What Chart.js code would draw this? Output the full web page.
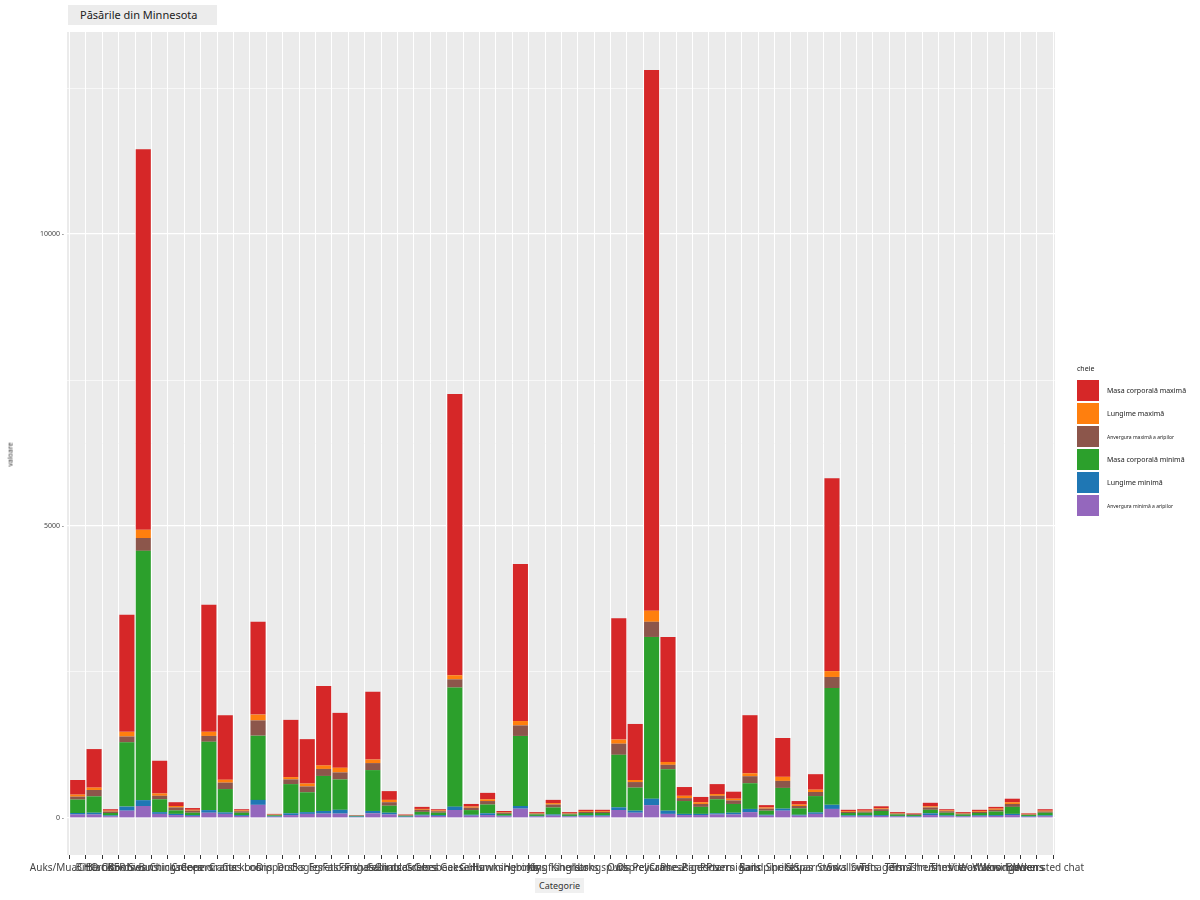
<!DOCTYPE html>
<html><head><meta charset="utf-8">
<script src="https://cdn.jsdelivr.net/npm/chart.js@4"></script>
<style>
body{margin:0;background:#fff;font-family:"Noto Sans",sans-serif;}
#wrap{position:relative;width:1200px;height:900px;}
#title{position:absolute;left:68px;top:5px;width:149px;height:20px;background:#ececec;font-size:11px;color:#222;line-height:20px;padding-left:12px;box-sizing:border-box;}
#legend{position:absolute;left:1077px;top:364px;font-size:7px;color:#222;white-space:nowrap;}
.li{display:flex;align-items:center;height:23px;}
.sw{width:22px;height:21px;margin-right:8px;}
.sm{font-size:5px;}
#xt{position:absolute;left:535px;top:878px;font-size:9px;color:#333;background:#f0f0f0;padding:1px 4px;}
#yt{position:absolute;left:-2px;top:450px;font-size:7px;color:#333;transform:rotate(-90deg);}
</style></head><body>
<div id="wrap"><canvas id="c" width="1200" height="900"></canvas>
<div id="title">Păsările din Minnesota</div>
<div id="xt">Categorie</div><div id="yt">valoare</div>
<div id="legend"></div></div>
<script>
const categories=["Auks/MuaCHO CKER","Bitterns","Blackbirds","Boobies","Swans","Buntings","Chickadees","Creepers","Cormorants","Cranes","Cuckoos","Loons","Dippers","Ducks","Eagles","Egrets","Falcons","Finches","Frigatebirds","Gallinules","Gnatcatchers","Grebes","Grosbeaks","Geese","Gulls","Hawks","Hummingbirds","Herons","Jays","Kingfishers","Kinglets","Larks","Longspurs","Owls","Ospreys","Pelicans","Cranes2","Pheasants","Pigeons","Plovers","Ptarmigans","Rails","Sandpipers","Shrikes","Skuas","Sparrows","Storks","Swallows","Swifts","Tanagers","Terns","Thrashers","Thrushes","Titmice","Vireos","Warblers","Waxwings","Woodpeckers","Wrens","Bbwen sted chat"];
const anvergMin=[60,60,30,125,205,70,50,35,90,70,35,225,20,50,70,75,75,15,80,60,15,40,35,137,40,50,30,160,25,40,25,30,30,137,90,220,70,50,50,60,60,100,40,125,40,70,155,30,30,35,25,20,50,30,25,30,35,50,20,30];
const lungMin=[25,30,15,70,100,30,20,15,45,25,15,85,10,30,30,45,65,10,40,30,10,15,15,57,15,30,10,45,10,20,10,15,15,45,35,110,55,20,20,20,30,55,15,35,15,25,70,15,15,15,10,10,30,15,10,15,15,20,10,15];
const masaMin=[230,280,40,1100,4270,220,60,40,1170,400,40,1100,15,500,340,600,520,10,700,120,12,50,40,2040,80,150,30,1200,25,120,25,40,40,900,395,2770,710,220,120,240,150,440,70,355,110,280,2000,40,45,70,25,20,60,45,25,40,60,120,20,45];
const anvergMax=[50,110,25,100,220,60,50,35,100,110,25,260,10,80,100,120,120,8,120,60,10,35,25,140,40,60,20,180,15,50,15,20,20,190,95,260,75,50,50,60,60,120,35,120,40,70,190,20,20,30,15,15,40,25,15,20,30,50,10,20];
const lungMax=[35,40,15,80,140,40,25,15,70,50,15,100,5,40,50,60,80,4,60,40,5,15,15,70,20,30,10,75,10,25,10,15,15,70,35,190,50,40,30,30,30,50,20,70,25,40,100,15,15,15,10,5,20,15,10,15,20,30,10,15];
const masaMax=[250,660,25,2005,6515,560,65,30,2175,1105,20,1590,10,980,760,1360,940,3,1160,150,8,35,20,4816,45,110,20,2690,15,55,15,20,20,2078,960,9260,2140,150,90,170,120,995,40,665,60,265,3305,20,25,35,15,10,60,20,15,20,30,60,10,25];
const seriesNames=["Anvergura minimă a aripilor","Lungime minimă","Masa corporală minimă","Anvergura maximă a aripilor","Lungime maximă","Masa corporală maximă"];
const seriesData=[anvergMin,lungMin,masaMin,anvergMax,lungMax,masaMax];
const colors=["#9467bd","#1f77b4","#2ca02c","#8c564b","#ff7f0e","#d62728"];
const yTicks=[0,2500,5000,7500,10000,12500];

const bg={id:'bg',beforeDraw(ch){const a=ch.chartArea,c=ch.ctx;c.save();c.fillStyle='#ebebeb';c.fillRect(67,a.top,1055-67,a.bottom-a.top);c.restore();}};
new Chart(document.getElementById('c'),{
 type:'bar',
 data:{datasets:seriesData.map((d,i)=>({label:seriesNames[i],data:d.map((v,j)=>({x:j,y:v})),backgroundColor:colors[i],borderWidth:0,barPercentage:0.92,categoryPercentage:1}))},
 options:{responsive:false,animation:false,
  layout:{padding:{top:32,right:145,left:0,bottom:0}},
  plugins:{legend:{display:false},tooltip:{enabled:false}},
  scales:{
   x:{type:'linear',stacked:true,min:-0.15,max:59.1,
     afterFit(s){s.height=45;s.paddingLeft=0;s.paddingRight=0;},
     afterBuildTicks(s){s.ticks=categories.map((_,i)=>({value:i}));},
     ticks:{autoSkip:false,maxRotation:0,font:{size:10,family:'Noto Sans'},color:'#444',callback:v=>categories[v]},
     grid:{color:'#ffffff',lineWidth:1,tickColor:'#333',tickLength:4},border:{display:false}},
   y:{stacked:true,min:-634,max:13460,
     afterFit(s){s.width=67;s.paddingTop=0;s.paddingBottom=0;},
     afterBuildTicks(s){s.ticks=yTicks.map(v=>({value:v}));},
     ticks:{font:{size:7,family:'Noto Sans'},color:'#444',callback:v=>(v%5000===0?v+' -':'')},
     grid:{color:'#ffffff',lineWidth:c=>c.tick&&c.tick.value%5000===0?1.2:0.6,drawTicks:false},border:{display:false}}
  }},
 plugins:[bg]});
const lg=document.getElementById('legend');
let h='<div style="margin-bottom:6px">cheie</div>';
for(let i=5;i>=0;i--)h+=`<div class="li"><div class="sw" style="background:${colors[i]}"></div><span class="${i%3===0?'sm':''}">${seriesNames[i]}</span></div>`;
lg.innerHTML=h;
</script></body></html>
